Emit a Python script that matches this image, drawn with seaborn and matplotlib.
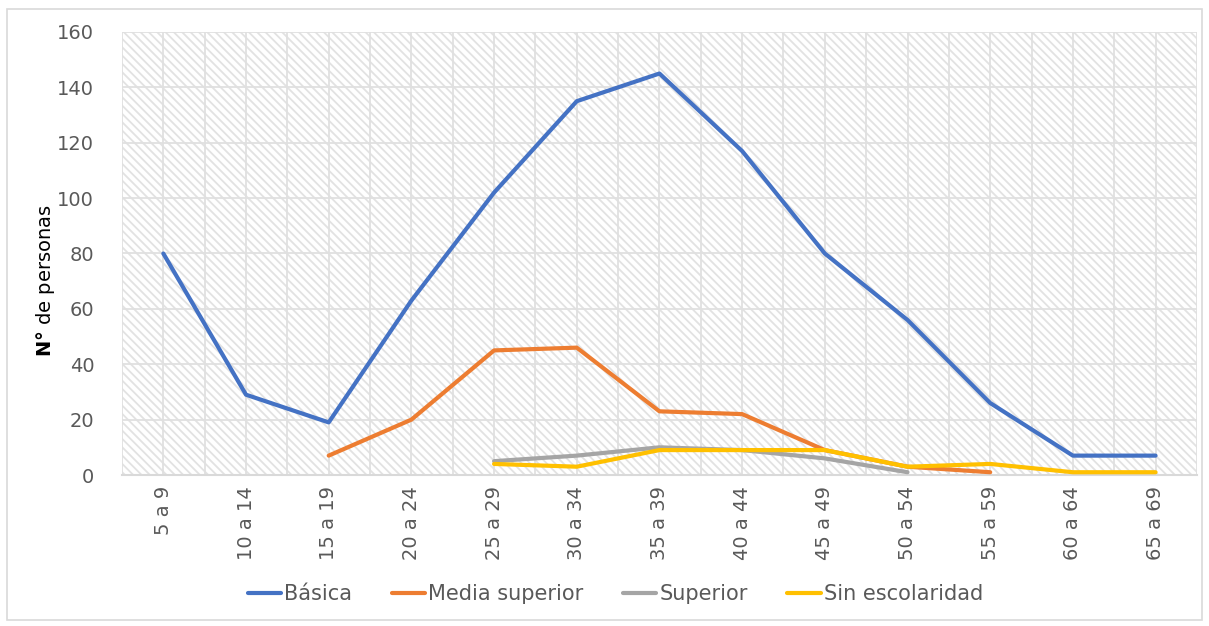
import numpy as np
import pandas as pd
import matplotlib
matplotlib.use("Agg")
import matplotlib.pyplot as plt
import seaborn as sns
from matplotlib.patches import Rectangle

# data
grupos = ["5 a 9", "10 a 14", "15 a 19", "20 a 24", "25 a 29", "30 a 34", "35 a 39",
          "40 a 44", "45 a 49", "50 a 54", "55 a 59", "60 a 64", "65 a 69"]
basica = [80, 29, 19, 63, 102, 135, 145, 117, 80, 56, 26, 7, 7]
media_superior = [np.nan, np.nan, 7, 20, 45, 46, 23, 22, 9, 3, 1, np.nan, np.nan]
superior = [np.nan, np.nan, np.nan, np.nan, 5, 7, 10, 9, 6, 1, np.nan, np.nan, np.nan]
sin_escolaridad = [np.nan, np.nan, np.nan, np.nan, 4, 3, 9, 9, 9, 3, 4, 1, 1]

series = {"Básica": basica, "Media superior": media_superior,
          "Superior": superior, "Sin escolaridad": sin_escolaridad}
colores = ["#4472C4", "#ED7D31", "#A5A5A5", "#FFC000"]

rows = []
for name, vals in series.items():
    for i, v in enumerate(vals):
        rows.append({"x": i, "valor": v, "serie": name})
df = pd.DataFrame(rows).dropna()

sns.set_theme(style="white")
plt.rcParams["font.family"] = ["DejaVu Sans"]
plt.rcParams["hatch.linewidth"] = 1.3

fig = plt.figure(figsize=(12.09, 6.26), dpi=100)
ax = fig.add_axes([0.1009, 0.2412, 0.8891, 0.7077])

# hatched plot background
bg = Rectangle((0, 0), 1, 1, transform=ax.transAxes, facecolor="white",
               edgecolor="#e2e2e2", hatch="\\\\\\\\", linewidth=0, zorder=0)
ax.add_patch(bg)

sns.lineplot(data=df, x="x", y="valor", hue="serie", hue_order=list(series.keys()),
             palette=colores, linewidth=3, ax=ax, legend=True, zorder=3)

ax.set_xlim(-0.5, len(grupos) - 0.5)
ax.set_ylim(0, 160)
ax.set_yticks(range(0, 161, 20))
ax.set_xticks(range(len(grupos)))
ax.set_xticklabels(grupos, rotation=90)
ax.set_xticks(np.arange(-0.5, len(grupos), 1), minor=True)
ax.grid(True, which="both", axis="x", color="#e0e0e0", linewidth=1.3, zorder=1)
ax.grid(True, which="major", axis="y", color="#e0e0e0", linewidth=1.3, zorder=1)
ax.set_axisbelow(True)
ax.tick_params(axis="both", which="both", length=0, colors="#595959", labelsize=14)
ax.tick_params(axis="y", pad=20)
ax.tick_params(axis="x", pad=8)

for s in ["top", "right", "left"]:
    ax.spines[s].set_visible(False)
ax.spines["bottom"].set_color("#d9d9d9")
ax.spines["bottom"].set_linewidth(1.5)

ax.set_xlabel("")
ax.set_ylabel(r"$\mathbf{N°}$ de personas", fontsize=14, color="black")
ax.yaxis.set_label_coords(-0.060, 0.44)

leg = ax.legend(loc="upper center", bbox_to_anchor=(0.509, 0.097),
                bbox_transform=fig.transFigure, ncol=4,
                frameon=False, fontsize=15, handlelength=1.6, handletextpad=0.15,
                columnspacing=1.9)
for t in leg.get_texts():
    t.set_color("#595959")
for h in leg.get_lines():
    h.set_linewidth(3)

# light border around the whole chart
fig.patches.append(Rectangle((0.006, 0.01), 0.988, 0.975, transform=fig.transFigure,
                             fill=False, edgecolor="#d9d9d9", linewidth=1.2))

fig.savefig("out.png", dpi=100)
